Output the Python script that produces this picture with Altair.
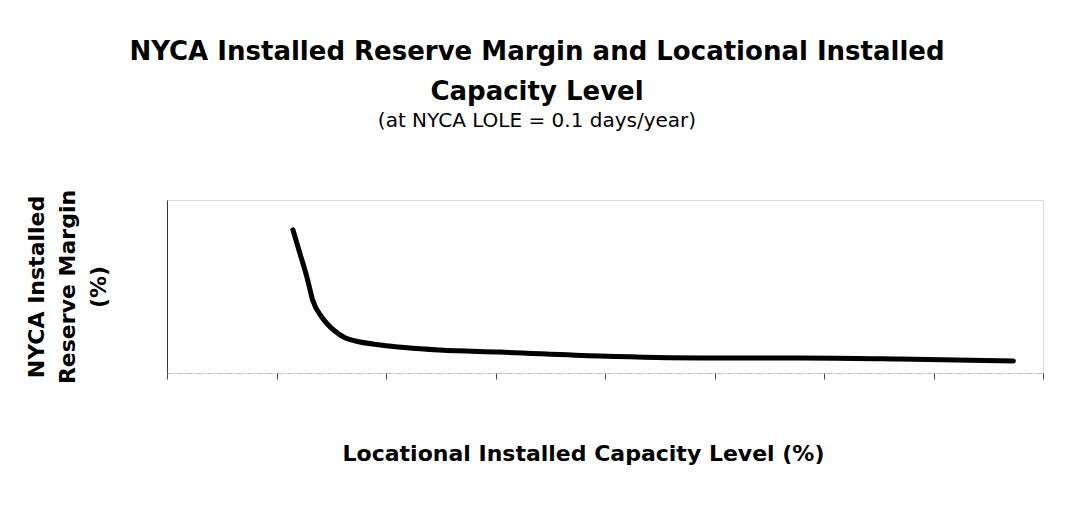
import altair as alt
import pandas as pd

# Values (the original has no tick labels; arbitrary scales)
capacity_level = [11.5, 12.1, 12.8, 13.3, 14.2, 15.2, 16.3, 17.2, 19.5, 24.9, 30.4, 39.5, 48.7, 57.8, 66.9, 77.3]
reserve_margin = [82.7, 69.9, 54.9, 42.2, 31.8, 24.9, 20.2, 18.5, 16.2, 13.3, 12.1, 9.8, 8.7, 8.7, 8.1, 6.9]
x_ticks = [0, 10, 20, 30, 40, 50, 60, 70, 80]

df = pd.DataFrame({"x": capacity_level, "y": reserve_margin})

FONT = "DejaVu Sans"

chart = alt.Chart(df).mark_line(
    color="black", strokeWidth=5, interpolate="monotone", strokeCap="round"
).encode(
    x=alt.X("x:Q", scale=alt.Scale(domain=[0, 80], nice=False),
            axis=alt.Axis(title="Locational Installed Capacity Level (%)", labels=False,
                          values=x_ticks, ticks=True, tickSize=6, tickColor="#444",
                          domainColor="#bbb", domainDash=[4, 6], grid=False,
                          titleFont=FONT, titleFontSize=22, titleFontWeight="bold",
                          titlePadding=64, titleX=416, titleColor="black")),
    y=alt.Y("y:Q", scale=alt.Scale(domain=[0, 100], nice=False),
            axis=alt.Axis(title=["NYCA Installed", "Reserve Margin", "(%)"], labels=False,
                          ticks=False, domainColor="#333", grid=False,
                          titleFont=FONT, titleFontSize=22, titleFontWeight="bold",
                          titleLineHeight=31, titlePadding=57, titleColor="black")),
).properties(
    width=876,
    height=173,
    autosize=alt.AutoSizeParams(type="none"),
    padding={"left": 159, "top": 192, "right": 26, "bottom": 126},
    title=alt.TitleParams(
        text=["NYCA Installed Reserve Margin and Locational Installed", "Capacity Level"],
        subtitle="(at NYCA LOLE = 0.1 days/year)",
        font=FONT, fontSize=26, fontWeight="bold", lineHeight=40, color="black",
        subtitleFont=FONT, subtitleFontSize=20, subtitleColor="black",
        subtitlePadding=6, anchor="middle", dx=-68, offset=58,
    ),
).configure_view(
    stroke="#bbb", strokeDash=[6, 10], strokeWidth=1
).configure(background="white")

chart.save("out.html", embed_options={"renderer": "svg", "actions": False})
